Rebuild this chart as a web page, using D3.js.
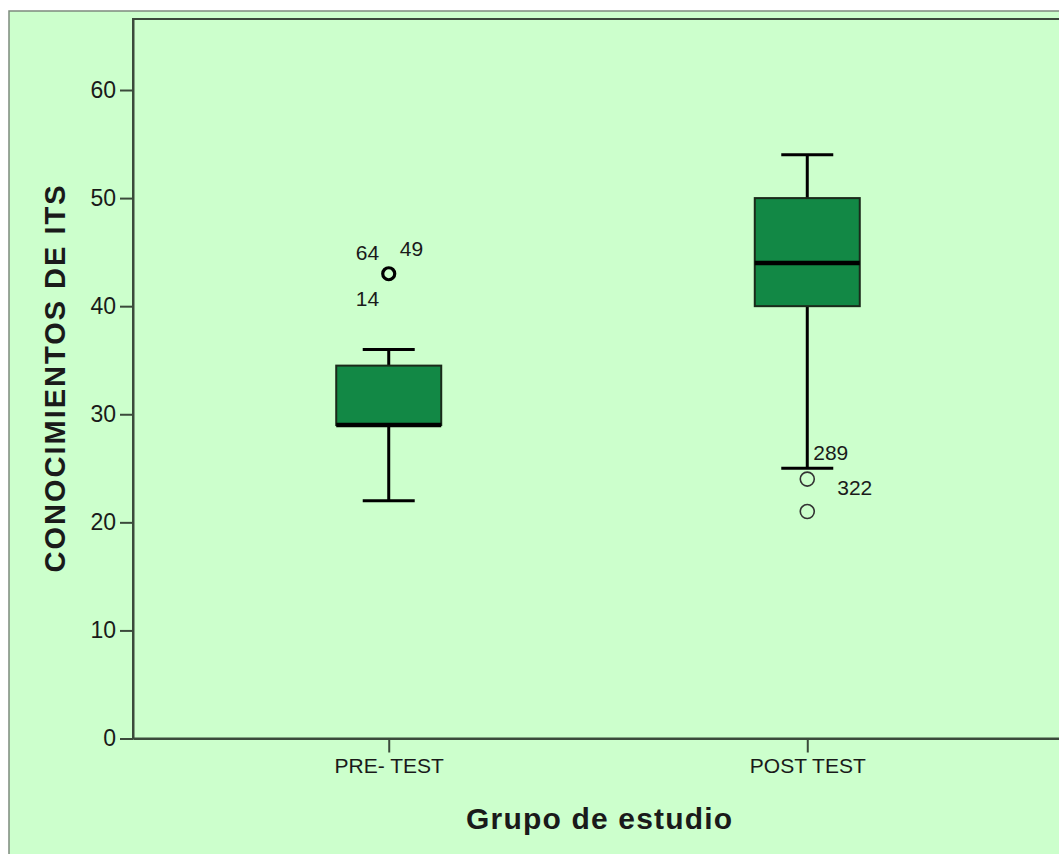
<!DOCTYPE html>
<html>
<head>
<meta charset="utf-8">
<script src="https://cdn.jsdelivr.net/npm/d3@7"></script>
<style>
  html, body { margin: 0; padding: 0; background: #ffffff; }
  svg { display: block; }
  text { font-family: "Liberation Sans", Arial, sans-serif; fill: #1a1a1a; }
</style>
</head>
<body>
<svg id="chart" width="1059" height="854"></svg>
<script>
// Groups and five-number summaries (whisker low, Q1, median, Q3, whisker high)
const groups = ["PRE- TEST", "POST TEST"];
const whiskerLow = [22, 25];
const q1 = [29, 40];
const median = [29, 44];
const q3 = [34.5, 50];
const whiskerHigh = [36, 54];

// Outlying cases: group, value, case number
const outlierGroup = ["PRE- TEST", "PRE- TEST", "PRE- TEST", "POST TEST", "POST TEST"];
const outlierValue = [43, 43, 43, 24, 21];
const outlierCase = ["64", "49", "14", "289", "322"];

const yTicks = [0, 10, 20, 30, 40, 50, 60];

const W = 1059, H = 854;
const svg = d3.select("#chart");

const plotLeft = 133, plotTop = 19, plotBottom = 738.5, plotRight = 1063;

// Outer panel
svg.append("rect").attr("x", 9).attr("y", 11).attr("width", W + 20).attr("height", H + 20)
  .attr("fill", "#ccffcc").attr("stroke", "#7d8a7d").attr("stroke-width", 1.5);

// Scales
const y = d3.scaleLinear().domain([0, 66.57]).range([plotBottom, plotTop]);
const x = d3.scalePoint().domain(groups).range([plotLeft, plotRight]).padding(0.611);

// Plot frame
svg.append("rect").attr("x", plotLeft).attr("y", plotTop)
  .attr("width", plotRight - plotLeft + 20).attr("height", plotBottom - plotTop)
  .attr("fill", "#ccffcc").attr("stroke", "#3b4a3b").attr("stroke-width", 2);

// Y axis
const yAxis = svg.append("g").attr("transform", `translate(${plotLeft},0)`)
  .call(d3.axisLeft(y).tickValues(yTicks).tickSizeInner(13).tickSizeOuter(0)
    .tickPadding(4).tickFormat(d3.format("d")));
yAxis.select(".domain").attr("stroke", "#3b4a3b").attr("stroke-width", 2);
yAxis.selectAll(".tick line").attr("stroke", "#3b4a3b").attr("stroke-width", 2);
yAxis.selectAll(".tick text").style("font-size", "23px").attr("fill", "#1a1a1a")
  .style("font-family", "'Liberation Sans', Arial, sans-serif");

// X axis
const xAxis = svg.append("g").attr("transform", `translate(0,${plotBottom})`)
  .call(d3.axisBottom(x).tickSizeInner(14).tickSizeOuter(0).tickPadding(6));
xAxis.select(".domain").attr("stroke", "#3b4a3b").attr("stroke-width", 2);
xAxis.selectAll(".tick line").attr("stroke", "#3b4a3b").attr("stroke-width", 2);
xAxis.selectAll(".tick text").style("font-size", "21px").attr("fill", "#1a1a1a")
  .style("font-family", "'Liberation Sans', Arial, sans-serif");

// Axis titles
svg.append("text").attr("transform", "translate(65,379) rotate(-90)")
  .attr("text-anchor", "middle").style("font-size", "29px").style("font-weight", "bold")
  .attr("textLength", 387).attr("lengthAdjust", "spacing")
  .text("CONOCIMIENTOS DE ITS");

svg.append("text").attr("x", 599).attr("y", 829)
  .attr("text-anchor", "middle").style("font-size", "30px").style("font-weight", "bold")
  .attr("textLength", 266).attr("lengthAdjust", "spacing")
  .text("Grupo de estudio");

// Boxes
const boxW = 105, capW = 52;
const boxes = svg.append("g");
groups.forEach((g, i) => {
  const cx = x(g);
  // whiskers
  boxes.append("line").attr("x1", cx).attr("x2", cx).attr("y1", y(whiskerHigh[i])).attr("y2", y(q3[i]))
    .attr("stroke", "#000").attr("stroke-width", 3);
  boxes.append("line").attr("x1", cx).attr("x2", cx).attr("y1", y(q1[i])).attr("y2", y(whiskerLow[i]))
    .attr("stroke", "#000").attr("stroke-width", 3);
  boxes.append("line").attr("x1", cx - capW / 2).attr("x2", cx + capW / 2)
    .attr("y1", y(whiskerHigh[i])).attr("y2", y(whiskerHigh[i]))
    .attr("stroke", "#000").attr("stroke-width", 3);
  boxes.append("line").attr("x1", cx - capW / 2).attr("x2", cx + capW / 2)
    .attr("y1", y(whiskerLow[i])).attr("y2", y(whiskerLow[i]))
    .attr("stroke", "#000").attr("stroke-width", 3);
  // box
  boxes.append("rect").attr("x", cx - boxW / 2).attr("y", y(q3[i]))
    .attr("width", boxW).attr("height", y(q1[i]) - y(q3[i]))
    .attr("fill", "#128845").attr("stroke", "#1a2a1a").attr("stroke-width", 2);
  // median
  boxes.append("line").attr("x1", cx - boxW / 2).attr("x2", cx + boxW / 2)
    .attr("y1", y(median[i])).attr("y2", y(median[i]))
    .attr("stroke", "#000").attr("stroke-width", 4.5);
});

// Outlier markers (coincident cases drawn on top of each other)
const outliers = outlierValue.map((v, i) => ({ g: outlierGroup[i], v, id: outlierCase[i] }));
const counts = d3.rollup(outliers, v => v.length, d => d.g + "|" + d.v);
svg.append("g").selectAll("circle")
  .data(Array.from(counts, ([k, n]) => ({ g: k.split("|")[0], v: +k.split("|")[1], n })))
  .join("circle")
  .attr("cx", d => x(d.g)).attr("cy", d => y(d.v))
  .attr("r", d => d.n > 1 ? 6 : 7)
  .attr("fill", "none").attr("stroke", d => d.n > 1 ? "#000" : "#333")
  .attr("stroke-width", d => d.n > 1 ? 3.2 : 1.6);

// Case number labels arranged around each marker
const labelPlacement = {
  "64": [-33, -14], "49": [11, -18], "14": [-33, 32],
  "289": [6, -19], "322": [30, -17]
};
svg.append("g").selectAll("text")
  .data(outliers).join("text")
  .attr("x", d => x(d.g) + labelPlacement[d.id][0])
  .attr("y", d => y(d.v) + labelPlacement[d.id][1])
  .style("font-size", "21px")
  .text(d => d.id);
</script>
</body>
</html>
